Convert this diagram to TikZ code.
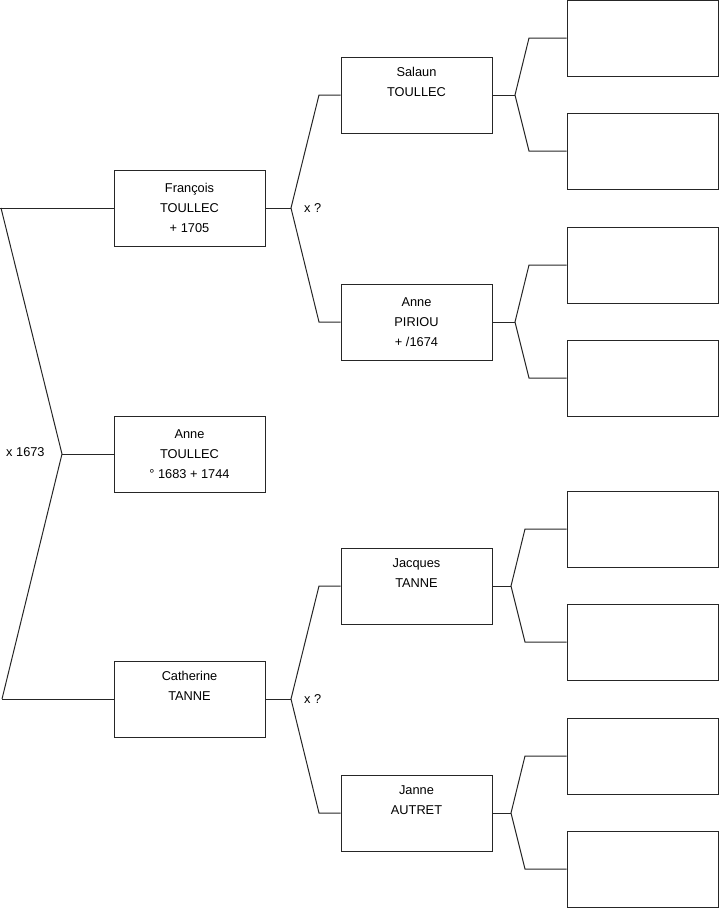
\documentclass[tikz,border=0pt]{standalone}
\usepackage{fontspec}
\setmainfont{Liberation Sans}
\begin{document}
\begin{tikzpicture}[x=1pt,y=-1pt,
  person/.style={draw=black!85, line width=1pt, minimum width=151pt, minimum height=76pt,
    inner sep=0pt, align=center, font=\fontsize{12.8}{20}\selectfont},
  link/.style={draw=black!85, line width=1pt},
  lbl/.style={font=\fontsize{12.8}{14}\selectfont, inner sep=0pt}]
\useasboundingbox (0,0) rectangle (719,908);
% generation 1
\node[person] (fran) at (189.5,208) {François\\TOULLEC\\+ 1705};
\node[person] (anne) at (189.5,454) {Anne\\TOULLEC\\° 1683 + 1744};
\node[person] (cath) at (189.5,699) {Catherine\\TANNE\\\strut};
% generation 2
\node[person] (sal) at (416.5,95) {Salaun\\TOULLEC\\\strut};
\node[person] (pir) at (416.5,322) {Anne\\PIRIOU\\+ /1674};
\node[person] (jac) at (416.5,586) {Jacques\\TANNE\\\strut};
\node[person] (jan) at (416.5,813) {Janne\\AUTRET\\\strut};
% generation 3
\node[person] (g1) at (642.5,38) {};
\node[person] (g2) at (642.5,151) {};
\node[person] (g3) at (642.5,265) {};
\node[person] (g4) at (642.5,378) {};
\node[person] (g5) at (642.5,529) {};
\node[person] (g6) at (642.5,642) {};
\node[person] (g7) at (642.5,756) {};
\node[person] (g8) at (642.5,869) {};
% connector coordinates
\coordinate (tl) at (1,208);
\coordinate (tlx) at (0,208);
\coordinate (v0) at (62,454);
\coordinate (bl) at (2,699);
\coordinate (vf) at (291,208);
\coordinate (vft) at (319,95);
\coordinate (vfb) at (319,322);
\coordinate (vc) at (291,699);
\coordinate (vct) at (319,586);
\coordinate (vcb) at (319,813);
\coordinate (vs) at (515,95);
\coordinate (vst) at (529,38);
\coordinate (vsb) at (529,151);
\coordinate (vp) at (515,322);
\coordinate (vpt) at (529,265);
\coordinate (vpb) at (529,378);
\coordinate (vj) at (511,586);
\coordinate (vjt) at (525,529);
\coordinate (vjb) at (525,642);
\coordinate (vn) at (511,813);
\coordinate (vnt) at (525,756);
\coordinate (vnb) at (525,869);
% connectors
\draw[link] (fran.west) -- (tlx);
\draw[link] (tl) -- (v0) -- (bl);
\draw[link] (bl) -- (cath.west);
\draw[link] (v0) -- (anne.west);
\draw[link] (fran.east) -- (vf);
\draw[link] (sal.west) -- (vft) -- (vf) -- (vfb) -- (pir.west);
\draw[link] (cath.east) -- (vc);
\draw[link] (jac.west) -- (vct) -- (vc) -- (vcb) -- (jan.west);
\draw[link] (sal.east) -- (vs);
\draw[link] (g1.west) -- (vst) -- (vs) -- (vsb) -- (g2.west);
\draw[link] (pir.east) -- (vp);
\draw[link] (g3.west) -- (vpt) -- (vp) -- (vpb) -- (g4.west);
\draw[link] (jac.east) -- (vj);
\draw[link] (g5.west) -- (vjt) -- (vj) -- (vjb) -- (g6.west);
\draw[link] (jan.east) -- (vn);
\draw[link] (g7.west) -- (vnt) -- (vn) -- (vnb) -- (g8.west);
% marriage labels
\node[lbl, anchor=west] (m0) at (6,452) {x 1673};
\node[lbl, anchor=west] (m1) at (304,208) {x ?};
\node[lbl, anchor=west] (m2) at (304,699) {x ?};
\end{tikzpicture}
\end{document}
